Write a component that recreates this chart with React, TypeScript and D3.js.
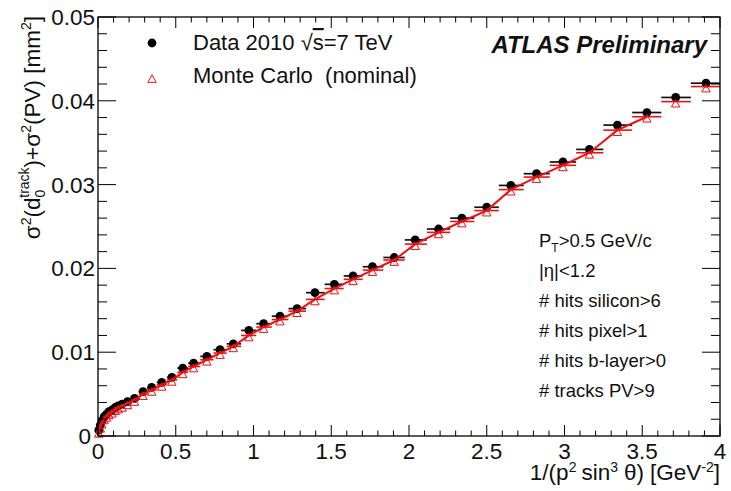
import React from "react";
import * as d3 from "d3";

// bin centres in 1/(p^2 sin^3 theta) [GeV^-2]
const binCentres = [
  0.005, 0.015, 0.025, 0.04, 0.055, 0.07, 0.09, 0.11, 0.13, 0.155, 0.19, 0.235,
  0.29, 0.345, 0.41, 0.475, 0.545, 0.615, 0.7, 0.785, 0.87, 0.97, 1.065, 1.17,
  1.28, 1.395, 1.52, 1.64, 1.765, 1.905, 2.04, 2.19, 2.34, 2.5, 2.655, 2.82,
  2.99, 3.16, 3.34, 3.53, 3.715, 3.91,
];

// Data 2010 sqrt(s)=7 TeV
const dataValues = [
  0.0007, 0.0013, 0.0018, 0.0023, 0.0026, 0.0029, 0.0031, 0.0034, 0.0036,
  0.0038, 0.0041, 0.0045, 0.0053, 0.0058, 0.0064, 0.007, 0.0081, 0.0087,
  0.0095, 0.0103, 0.011, 0.0126, 0.0134, 0.0143, 0.0152, 0.0171, 0.0181,
  0.0191, 0.0202, 0.0213, 0.0234, 0.0247, 0.026, 0.0273, 0.0299, 0.0313,
  0.0327, 0.0342, 0.0371, 0.0386, 0.0404, 0.0421,
];

// Monte Carlo (nominal)
const mcValues = [
  0.0005, 0.0011, 0.0016, 0.0021, 0.0024, 0.0027, 0.0029, 0.0032, 0.0034,
  0.0036, 0.0039, 0.0043, 0.005, 0.0055, 0.0061, 0.0067, 0.0076, 0.0083,
  0.0091, 0.0099, 0.0107, 0.012, 0.013, 0.0139, 0.0149, 0.0163, 0.0176,
  0.0187, 0.0198, 0.021, 0.0229, 0.0243, 0.0256, 0.0269, 0.0294, 0.0309,
  0.0323, 0.0338, 0.0365, 0.0381, 0.0399, 0.0417,
];

const lineEnd = 3.53; // red curve stops here

const cuts = [
  "|η|<1.2",
  "# hits silicon>6",
  "# hits pixel>1",
  "# hits b-layer>0",
  "# tracks PV>9",
];

const width = 731;
const height = 491;
const margin = { top: 17, right: 11, bottom: 55, left: 98 };
const font = "'Liberation Sans', Arial, Helvetica, sans-serif";
const red = "#f01010";

export default function App() {
  const x = d3
    .scaleLinear()
    .domain([0, 4])
    .range([margin.left, width - margin.right]);
  const y = d3
    .scaleLinear()
    .domain([0, 0.05])
    .range([height - margin.bottom, margin.top]);

  const [x0, x1] = x.range();
  const [y0, y1] = y.range();

  const xMajor = d3.range(0, 4.0001, 0.5);
  const xMinor = d3.range(0, 4.0001, 0.1);
  const yMajor = y.ticks(5);
  const yMinor = d3.range(0, 0.05001, 0.002);
  const fmt = d3.format("~g");

  // bin edges from neighbouring centres
  const edges = binCentres.map((c, i) => {
    const lo = i === 0 ? 0 : (binCentres[i - 1] + c) / 2;
    const hi =
      i === binCentres.length - 1
        ? Math.min(4, c + (c - binCentres[i - 1]) / 2)
        : (binCentres[i + 1] + c) / 2;
    return [lo, hi];
  });

  const mcLine = d3
    .line<number>()
    .x((d) => x(binCentres[d]))
    .y((d) => y(mcValues[d]));
  const lineIdx = binCentres.map((_, i) => i).filter((i) => binCentres[i] <= lineEnd);

  const tri = (cx: number, cy: number, s = 4.2) =>
    `M${cx},${cy - s}L${cx + s},${cy + s * 0.8}L${cx - s},${cy + s * 0.8}Z`;

  return (
    <svg width={width} height={height} style={{ position: "absolute", left: 0, top: 0, background: "#fff" }} fontFamily={font}>
      <rect x={0} y={0} width={width} height={height} fill="#fff" />

      {/* data */}
      <g>
        {binCentres.map((c, i) => (
          <line key={"db" + i} x1={x(edges[i][0])} x2={x(edges[i][1])} y1={y(dataValues[i])} y2={y(dataValues[i])} stroke="#111" strokeWidth={1.7} />
        ))}
        {binCentres.map((c, i) => (
          <circle key={"dp" + i} cx={x(c)} cy={y(dataValues[i])} r={4.4} fill="#000" />
        ))}
      </g>

      {/* monte carlo */}
      <g>
        <path d={mcLine(lineIdx) || ""} fill="none" stroke={red} strokeWidth={2} />
        {binCentres.map((c, i) => (
          <line key={"mb" + i} x1={x(edges[i][0])} x2={x(edges[i][1])} y1={y(mcValues[i])} y2={y(mcValues[i])} stroke={red} strokeWidth={1.6} />
        ))}
        {binCentres.map((c, i) => (
          <path key={"mp" + i} d={tri(x(c), y(mcValues[i]) + 2)} fill="none" stroke={red} strokeWidth={1} />
        ))}
      </g>

      {/* frame and ticks */}
      <rect x={x0} y={y1} width={x1 - x0} height={y0 - y1} fill="none" stroke="#000" strokeWidth={1.3} />
      {xMinor.map((v, i) => {
        const major = xMajor.some((m) => Math.abs(m - v) < 1e-6);
        const len = major ? 11 : 5.5;
        return (
          <g key={"xt" + i} stroke="#000" strokeWidth={1}>
            <line x1={x(v)} x2={x(v)} y1={y0} y2={y0 - len} />
            <line x1={x(v)} x2={x(v)} y1={y1} y2={y1 + len} />
          </g>
        );
      })}
      {yMinor.map((v, i) => {
        const major = yMajor.some((m) => Math.abs(m - v) < 1e-7);
        const len = major ? 18 : 9;
        return (
          <g key={"yt" + i} stroke="#000" strokeWidth={1}>
            <line x1={x0} x2={x0 + len} y1={y(v)} y2={y(v)} />
            <line x1={x1} x2={x1 - len} y1={y(v)} y2={y(v)} />
          </g>
        );
      })}
      {xMajor.map((v, i) => (
        <text key={"xl" + i} x={x(v)} y={459} fontSize={22.5} textAnchor="middle" fill="#111">
          {fmt(v)}
        </text>
      ))}
      {yMajor.map((v, i) => (
        <text key={"yl" + i} x={v === 0 ? 91 : 95} y={y(v) + 8} fontSize={22.5} textAnchor="end" fill="#111">
          {fmt(v)}
        </text>
      ))}

      {/* axis titles */}
      <text x={x1} y={480} fontSize={22.5} textAnchor="end" fill="#111" style={{ whiteSpace: "pre" }}>
        1/(p<tspan dy={-8} fontSize={14}>2</tspan>
        <tspan dy={8} dx={5}>sin</tspan>
        <tspan dy={-8} fontSize={14}>3</tspan>
        <tspan dy={8} dx={6}>θ)</tspan>
        <tspan dx={6}>[GeV</tspan>
        <tspan dy={-8} fontSize={14}>-2</tspan>
        <tspan dy={8}>]</tspan>
      </text>
      <text transform={`translate(40,${y1 - 1}) rotate(-90)`} fontSize={22.5} textAnchor="end" fill="#111">
        σ<tspan dy={-9} fontSize={14}>2</tspan>
        <tspan dy={9}>(d</tspan>
        <tspan dy={5} fontSize={14}>0</tspan>
        <tspan dx={-8} dy={-16} fontSize={14}>track</tspan>
        <tspan dy={11}>)+σ</tspan>
        <tspan dy={-9} fontSize={14}>2</tspan>
        <tspan dy={9}>(PV) [mm</tspan>
        <tspan dy={-9} fontSize={14}>2</tspan>
        <tspan dy={9}>]</tspan>
      </text>

      {/* legend */}
      <circle cx={152} cy={43} r={4.4} fill="#000" />
      <text x={193} y={50} fontSize={22} fill="#111">
        Data 2010 √<tspan textDecoration="overline">s</tspan>=7 TeV
      </text>
      <path d={tri(152, 79)} fill="none" stroke={red} strokeWidth={1} />
      <text x={193} y={83} fontSize={22} fill="#111" style={{ whiteSpace: "pre" }}>
        {"Monte Carlo  (nominal)"}
      </text>
      <text x={707} y={53} fontSize={24} fontWeight="bold" fontStyle="italic" textAnchor="end" fill="#111">
        ATLAS Preliminary
      </text>

      {/* selection cuts */}
      <text x={539} y={247} fontSize={18.5} fill="#111">
        P<tspan dy={5} fontSize={12}>T</tspan>
        <tspan dy={-5}>&gt;0.5 GeV/c</tspan>
      </text>
      {cuts.map((c, i) => (
        <text key={"c" + i} x={539} y={277 + i * 30} fontSize={18.5} fill="#111" style={{ whiteSpace: "pre" }}>
          {c}
        </text>
      ))}
    </svg>
  );
}
